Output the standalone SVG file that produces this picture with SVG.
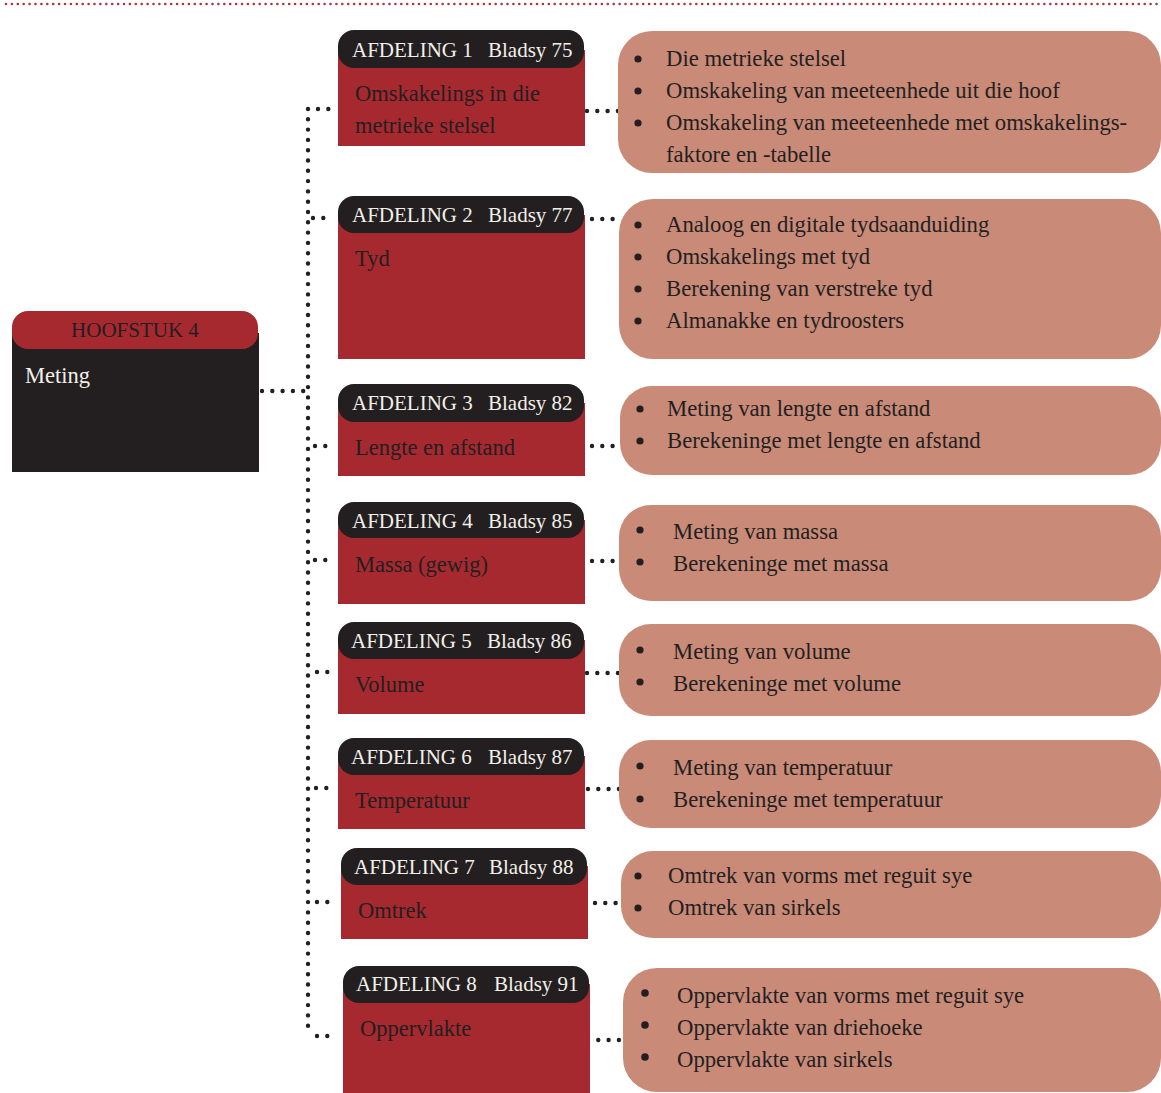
<svg xmlns="http://www.w3.org/2000/svg" width="1161" height="1093" viewBox="0 0 1161 1093">
<style>
.red{fill:#a6292f}
.dark{fill:#231f20}
.sal{fill:#c98a78}
.hd{font-family:"Liberation Serif",serif;font-size:21px;fill:#f3f0ea}
.bd{font-family:"Liberation Serif",serif;font-size:22.5px;fill:#231f20}
.bl{font-family:"Liberation Serif",serif;font-size:22.7px;fill:#231f20}
.bul{fill:#231f20}
.dot{fill:none;stroke:#231f20;stroke-width:4.4;stroke-linecap:round;stroke-dasharray:0 10.3}
</style>
<line x1="6" y1="4" x2="1161" y2="4" style="fill:none;stroke:#b0323a;stroke-width:2.6;stroke-linecap:round;stroke-dasharray:0 5.9"/>

<g id="connectors">
<path class="dot" d="M262 391 H304"/>
<path class="dot" d="M308 109 V1036"/>
<path class="dot" d="M318 109 H338"/>
<path class="dot" d="M313 218 H333"/>
<path class="dot" d="M315 446 H335"/>
<path class="dot" d="M315 560 H335"/>
<path class="dot" d="M317 672 H337"/>
<path class="dot" d="M316 788 H336"/>
<path class="dot" d="M317 902 H337"/>
<path class="dot" d="M317 1036 H337"/>
<path class="dot" d="M587 111 H618"/>
<path class="dot" d="M592 219 H613"/>
<path class="dot" d="M592 446 H613"/>
<path class="dot" d="M592 561 H613"/>
<path class="dot" d="M587 673 H618"/>
<path class="dot" d="M588 789 H619"/>
<path class="dot" d="M595 903 H616"/>
<path class="dot" d="M588 1040 H619"/>
</g>

<g id="hoofstuk">
<rect class="dark" x="12" y="333" width="247" height="139"/>
<rect class="red" x="12" y="311" width="246" height="38" rx="16"/>
<text x="135" y="337" text-anchor="middle" style="font-family:'Liberation Serif',serif;font-size:21px;fill:#231f20">HOOFSTUK 4</text>
<text x="25" y="383" style="font-family:'Liberation Serif',serif;font-size:22.5px;fill:#f3f0ea">Meting</text>
</g>

<g id="afdeling1">
<rect class="red" x="338" y="50" width="247" height="96"/>
<rect class="dark" x="338" y="30" width="246" height="38" rx="16"/>
<text class="hd" x="352" y="57">AFDELING 1</text>
<text class="hd" x="488" y="57">Bladsy 75</text>
<text class="bd" x="355" y="101">Omskakelings in die</text>
<text class="bd" x="355" y="133">metrieke stelsel</text>
</g>
<g id="afdeling2">
<rect class="red" x="338" y="215" width="247" height="144"/>
<rect class="dark" x="338" y="196" width="246" height="37" rx="16"/>
<text class="hd" x="352" y="222">AFDELING 2</text>
<text class="hd" x="488" y="222">Bladsy 77</text>
<text class="bd" x="355" y="266">Tyd</text>
</g>
<g id="afdeling3">
<rect class="red" x="338" y="403" width="247" height="73"/>
<rect class="dark" x="338" y="384" width="246" height="38" rx="16"/>
<text class="hd" x="352" y="410">AFDELING 3</text>
<text class="hd" x="488" y="410">Bladsy 82</text>
<text class="bd" x="355" y="455">Lengte en afstand</text>
</g>
<g id="afdeling4">
<rect class="red" x="338" y="520" width="247" height="84"/>
<rect class="dark" x="338" y="502" width="246" height="36" rx="16"/>
<text class="hd" x="352" y="528">AFDELING 4</text>
<text class="hd" x="488" y="528">Bladsy 85</text>
<text class="bd" x="355" y="572">Massa (gewig)</text>
</g>
<g id="afdeling5">
<rect class="red" x="338" y="640" width="247" height="74"/>
<rect class="dark" x="338" y="622" width="246" height="37" rx="16"/>
<text class="hd" x="351" y="648">AFDELING 5</text>
<text class="hd" x="487" y="648">Bladsy 86</text>
<text class="bd" x="355" y="692">Volume</text>
</g>
<g id="afdeling6">
<rect class="red" x="338" y="756" width="247" height="73"/>
<rect class="dark" x="338" y="738" width="246" height="37" rx="16"/>
<text class="hd" x="351" y="764">AFDELING 6</text>
<text class="hd" x="488" y="764">Bladsy 87</text>
<text class="bd" x="355" y="808">Temperatuur</text>
</g>
<g id="afdeling7">
<rect class="red" x="341" y="866" width="247" height="73"/>
<rect class="dark" x="341" y="848" width="246" height="37" rx="16"/>
<text class="hd" x="354" y="874">AFDELING 7</text>
<text class="hd" x="489" y="874">Bladsy 88</text>
<text class="bd" x="358" y="918">Omtrek</text>
</g>
<g id="afdeling8">
<rect class="red" x="343" y="984" width="247" height="109"/>
<rect class="dark" x="343" y="966" width="246" height="37" rx="16"/>
<text class="hd" x="356" y="991">AFDELING 8</text>
<text class="hd" x="494" y="991">Bladsy 91</text>
<text class="bd" x="360" y="1036">Oppervlakte</text>
</g>

<g id="lys1">
<rect class="sal" x="618" y="31" width="543" height="142" rx="34"/>
<circle class="bul" cx="638" cy="59" r="3.6"/><circle class="bul" cx="638" cy="91" r="3.6"/><circle class="bul" cx="638" cy="123" r="3.6"/>
<text class="bl" x="666" y="66">Die metrieke stelsel</text>
<text class="bl" x="666" y="98">Omskakeling van meeteenhede uit die hoof</text>
<text class="bl" x="666" y="130">Omskakeling van meeteenhede met omskakelings-</text>
<text class="bl" x="666" y="162">faktore en -tabelle</text>
</g>
<g id="lys2">
<rect class="sal" x="619" y="199" width="542" height="160" rx="34"/>
<circle class="bul" cx="638" cy="225" r="3.6"/><circle class="bul" cx="638" cy="257" r="3.6"/><circle class="bul" cx="638" cy="289" r="3.6"/><circle class="bul" cx="638" cy="321" r="3.6"/>
<text class="bl" x="666" y="232">Analoog en digitale tydsaanduiding</text>
<text class="bl" x="666" y="264">Omskakelings met tyd</text>
<text class="bl" x="666" y="296">Berekening van verstreke tyd</text>
<text class="bl" x="666" y="328">Almanakke en tydroosters</text>
</g>
<g id="lys3">
<rect class="sal" x="620" y="386" width="541" height="89" rx="32"/>
<circle class="bul" cx="640" cy="409" r="3.6"/><circle class="bul" cx="640" cy="441" r="3.6"/>
<text class="bl" x="667" y="416">Meting van lengte en afstand</text>
<text class="bl" x="667" y="448">Berekeninge met lengte en afstand</text>
</g>
<g id="lys4">
<rect class="sal" x="619" y="505" width="542" height="96" rx="32"/>
<circle class="bul" cx="640" cy="530" r="3.6"/><circle class="bul" cx="640" cy="562" r="3.6"/>
<text class="bl" x="673" y="539">Meting van massa</text>
<text class="bl" x="673" y="571">Berekeninge met massa</text>
</g>
<g id="lys5">
<rect class="sal" x="619" y="624" width="542" height="92" rx="32"/>
<circle class="bul" cx="640" cy="650" r="3.6"/><circle class="bul" cx="640" cy="682" r="3.6"/>
<text class="bl" x="673" y="659">Meting van volume</text>
<text class="bl" x="673" y="691">Berekeninge met volume</text>
</g>
<g id="lys6">
<rect class="sal" x="619" y="740" width="542" height="88" rx="32"/>
<circle class="bul" cx="640" cy="766" r="3.6"/><circle class="bul" cx="640" cy="799" r="3.6"/>
<text class="bl" x="673" y="775">Meting van temperatuur</text>
<text class="bl" x="673" y="807">Berekeninge met temperatuur</text>
</g>
<g id="lys7">
<rect class="sal" x="621" y="851" width="540" height="87" rx="32"/>
<circle class="bul" cx="638" cy="876" r="3.6"/><circle class="bul" cx="638" cy="908" r="3.6"/>
<text class="bl" x="668" y="883">Omtrek van vorms met reguit sye</text>
<text class="bl" x="668" y="915">Omtrek van sirkels</text>
</g>
<g id="lys8">
<rect class="sal" x="623" y="968" width="538" height="124" rx="34"/>
<circle class="bul" cx="645" cy="993" r="3.8"/><circle class="bul" cx="645" cy="1025" r="3.8"/><circle class="bul" cx="645" cy="1057" r="3.8"/>
<text class="bl" x="677" y="1003">Oppervlakte van vorms met reguit sye</text>
<text class="bl" x="677" y="1035">Oppervlakte van driehoeke</text>
<text class="bl" x="677" y="1067">Oppervlakte van sirkels</text>
</g>
</svg>
